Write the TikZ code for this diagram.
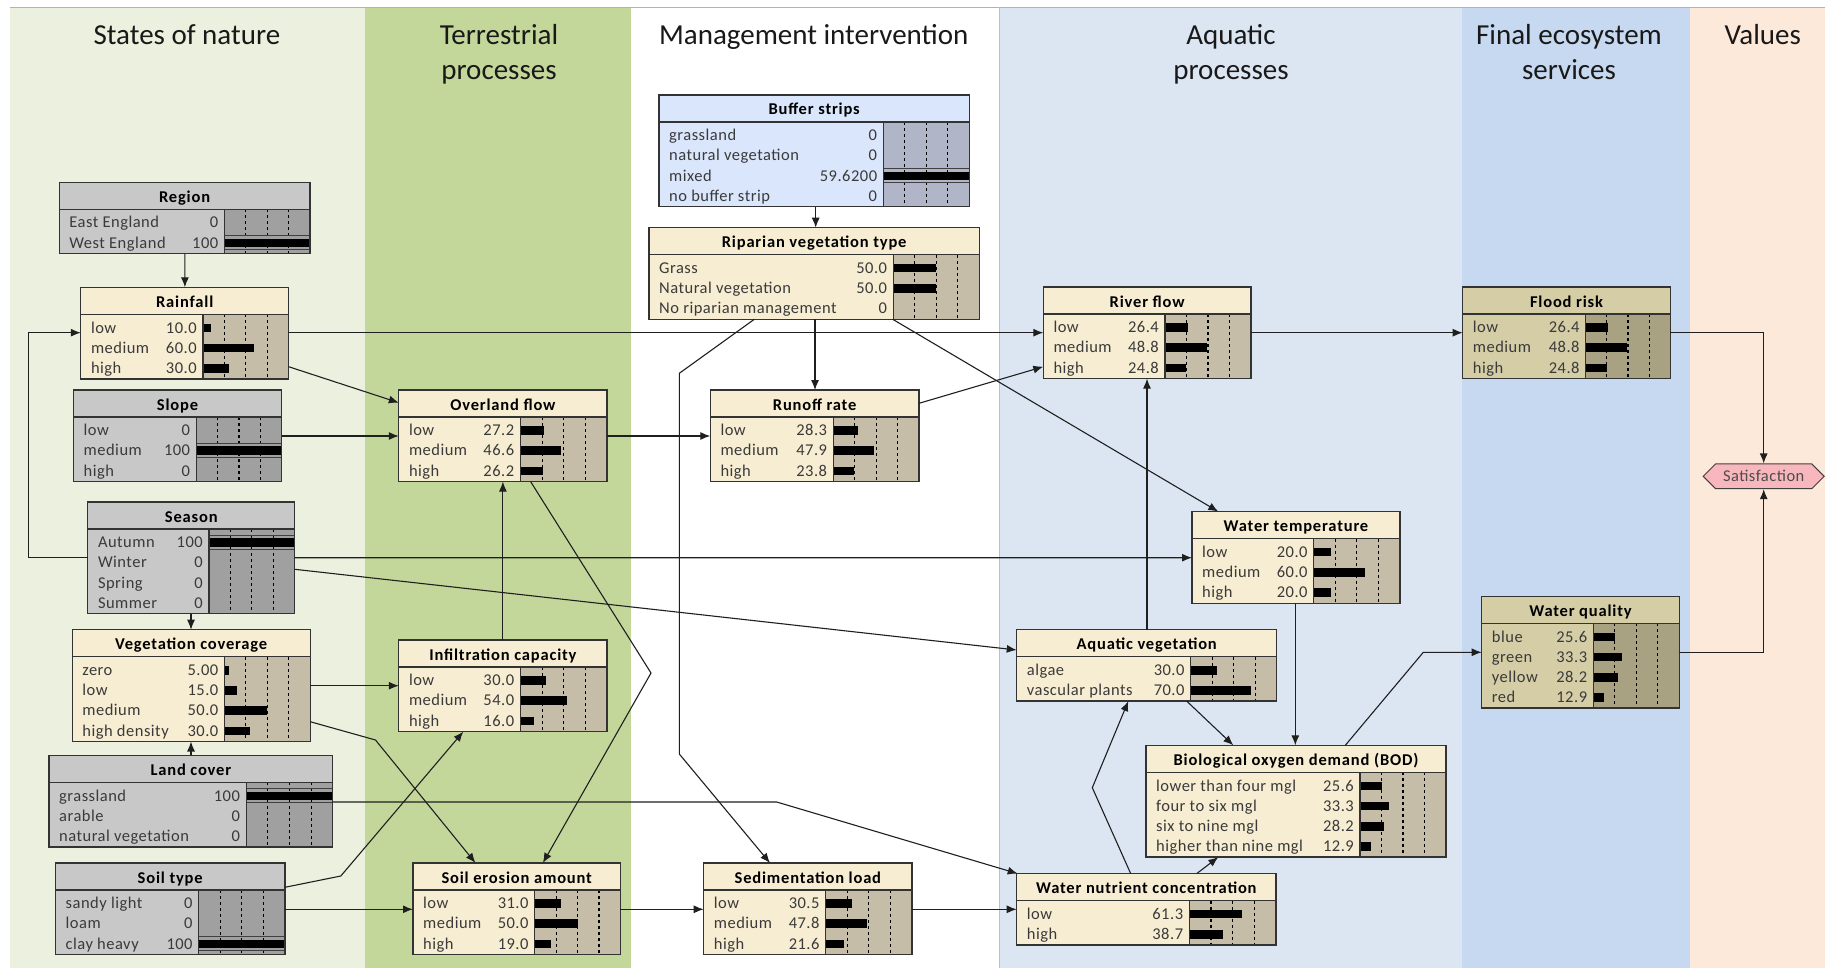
\documentclass[tikz,border=0pt]{standalone}
\usepackage{fontspec}
\setmainfont{Carlito}
\newfontfamily\rowfamily[LetterSpace=3.0]{Carlito}
\newfontfamily\ttlfamily[LetterSpace=5.0]{Carlito}
\usetikzlibrary{arrows.meta,calc,shapes.symbols}

% column backgrounds
\definecolor{colNature}{HTML}{EBF1DE}
\definecolor{colTerr}{HTML}{C4D79B}
\definecolor{colAqua}{HTML}{DCE6F2}
\definecolor{colFinal}{HTML}{C6D9F1}
\definecolor{colValue}{HTML}{FDE9D9}
% node palettes: T = title and label area, B = bar area
\definecolor{grayT}{HTML}{C8C8C8}
\definecolor{grayB}{HTML}{A0A0A0}
\definecolor{creamT}{HTML}{F7EDD2}
\definecolor{creamB}{HTML}{C6BDA8}
\definecolor{khakiT}{HTML}{D4CDA6}
\definecolor{khakiB}{HTML}{A8A282}
\definecolor{blueT}{HTML}{DAE6FC}
\definecolor{blueB}{HTML}{B0B5C7}
\definecolor{satpink}{HTML}{F8B7BC}
\definecolor{rowgray}{HTML}{3A3A3A}

\tikzset{
  conn/.style={draw=black!88, line width=1.1pt, -{Latex[length=10pt,width=8pt]}},
  dashln/.style={black, line width=1.1pt, dash pattern=on 3pt off 3pt},
  rowtxt/.style={inner sep=0pt, font=\rowfamily\fontsize{16.5}{18}\selectfont, text=rowgray},
  ttltxt/.style={inner sep=0pt, anchor=base, font=\ttlfamily\bfseries\fontsize{16.5}{18}\selectfont, text=black},
  hdr/.style={anchor=base, inner sep=0pt, font=\fontsize{29}{35}\selectfont, text=black!90},
}

% #1 name, #2 left, #3 top, #4 right, #5 divider, #6 number of rows,
% #7 palette, #8 title, #9 rows as label/value/percent/evidence
\newcommand{\bnbox}[9]{%
  \pgfmathsetmacro{\nnTop}{#3+27}%
  \pgfmathsetmacro{\nnBot}{#3+27+20.2*#6+4}%
  \pgfmathsetmacro{\nnW}{#4-#2}%
  \pgfmathsetmacro{\nnH}{\nnBot-#3}%
  \pgfmathsetmacro{\nnBar}{#4-#5}%
  \fill[#7T] (#2,#3) rectangle (#4,\nnTop);
  \fill[#7T] (#2,\nnTop) rectangle (#5,\nnBot);
  \fill[#7B] (#5,\nnTop) rectangle (#4,\nnBot);
  \foreach \f in {0.25,0.5,0.75}{\draw[dashln] ({#5+\f*\nnBar},\nnTop) -- ({#5+\f*\nnBar},\nnBot);}
  \foreach \lab/\val/\pct/\ev [count=\k from 0] in {#9}{%
    \pgfmathsetmacro{\ry}{\nnTop+18.7+20.2*\k}%
    \ifnum\ev=1
      \draw[line width=1pt, black!75] (#5,{\ry-12.2}) -- (#4,{\ry-12.2}) (#5,{\ry+1.8}) -- (#4,{\ry+1.8});
    \fi
    \fill (#5,{\ry-9.5}) rectangle ({#5+\pct/100*\nnBar},{\ry-0.9});
    \node[rowtxt, anchor=base west] at ({#2+10},\ry) {\lab};
    \node[rowtxt, anchor=base east] at ({#5-6},\ry) {\val};
  }
  \draw[line width=1.2pt, black!80] (#2,\nnTop) -- (#4,\nnTop) (#5,\nnTop) -- (#5,\nnBot);
  \node[ttltxt] at ({(#2+#4)/2},{#3+20}) {#8};
  \node[draw=black!80, line width=1.3pt, minimum width=\nnW pt, minimum height=\nnH pt,
        anchor=north west, inner sep=0pt, outer sep=0pt] (#1) at (#2,#3) {};
}

\begin{document}
\begin{tikzpicture}[x=1pt,y=-1pt]
\useasboundingbox (0,0) rectangle (1825,968);
\fill[white] (0,0) rectangle (1825,968);

% ---- columns ----
\fill[colNature] (10,7.3) rectangle (364.5,968);
\fill[colTerr]   (364.5,7.3) rectangle (630.7,968);
\fill[colAqua]   (999.3,7.3) rectangle (1462,968);
\fill[colFinal]  (1462,7.3) rectangle (1690,968);
\fill[colValue]  (1690,7.3) rectangle (1825,968);
\draw[black!30, line width=0.8pt] (10,7.3) -- (1825,7.3);
\draw[black!25, line width=0.8pt] (999.3,7.3) -- (999.3,968);

% ---- column headings ----
\node[hdr] (hNature) at (186.9,45) {States of nature};
\node[hdr] (hTerrA) at (499,45) {Terrestrial};
\node[hdr] (hTerrB) at (499,80) {processes};
\node[hdr] (hMgmt) at (813.7,45) {Management intervention};
\node[hdr] (hAquaA) at (1231,45) {Aquatic};
\node[hdr] (hAquaB) at (1231,80) {processes};
\node[hdr] (hFinalA) at (1569,45) {Final ecosystem};
\node[hdr] (hFinalB) at (1569,80) {services};
\node[hdr] (hValue) at (1762.7,45) {Values};

% ---- states of nature ----
\bnbox{region}{59.2}{182.3}{310}{224.5}{2}{gray}{Region}
  {East England/0/0/0, West England/100/100/1}
\bnbox{rain}{80.8}{287.3}{288.6}{202.9}{3}{cream}{Rainfall}
  {low/10.0/10/0, medium/60.0/60/0, high/30.0/30/0}
\bnbox{slope}{73.5}{390}{281.6}{196.3}{3}{gray}{Slope}
  {low/0/0/0, medium/100/100/1, high/0/0/0}
\bnbox{season}{87.8}{502}{294.7}{209}{4}{gray}{Season}
  {Autumn/100/100/1, Winter/0/0/0, Spring/0/0/0, Summer/0/0/0}
\bnbox{veg}{72.2}{629.7}{310.2}{224.5}{4}{cream}{Vegetation coverage}
  {zero/5.00/5/0, low/15.0/15/0, medium/50.0/50/0, high density/30.0/30/0}
\bnbox{land}{49}{755.3}{332.7}{246.1}{3}{gray}{Land cover}
  {grassland/100/100/1, arable/0/0/0, natural vegetation/0/0/0}
\bnbox{soil}{55.5}{863}{284.9}{198.8}{3}{gray}{Soil type}
  {sandy light/0/0/0, loam/0/0/0, clay heavy/100/100/1}

% ---- terrestrial processes ----
\bnbox{over}{398.8}{390}{607}{520.4}{3}{cream}{Overland flow}
  {low/27.2/27.2/0, medium/46.6/46.6/0, high/26.2/26.2/0}
\bnbox{infil}{398.8}{640}{607}{520.4}{3}{cream}{Infiltration capacity}
  {low/30.0/30/0, medium/54.0/54/0, high/16.0/16/0}
\bnbox{eros}{413}{863}{620.4}{534.7}{3}{cream}{Soil erosion amount}
  {low/31.0/31/0, medium/50.0/50/0, high/19.0/19/0}

% ---- management intervention ----
\bnbox{buffer}{659}{95}{969.3}{883.3}{4}{blue}{Buffer strips}
  {grassland/0/0/0, natural vegetation/0/0/0, mixed/59.6200/100/1, no buffer strip/0/0/0}
\bnbox{ripar}{649}{227.7}{979.3}{893.3}{3}{cream}{Riparian vegetation type}
  {Grass/50.0/50/0, Natural vegetation/50.0/50/0, No riparian management/0/0/0}
\bnbox{runoff}{710.3}{390}{919}{833.3}{3}{cream}{Runoff rate}
  {low/28.3/28.3/0, medium/47.9/47.9/0, high/23.8/23.8/0}
\bnbox{sedim}{703.7}{863}{912}{825.7}{3}{cream}{Sedimentation load}
  {low/30.5/30.5/0, medium/47.8/47.8/0, high/21.6/21.6/0}

% ---- aquatic processes ----
\bnbox{river}{1043.3}{287}{1251}{1165}{3}{cream}{River flow}
  {low/26.4/26.4/0, medium/48.8/48.8/0, high/24.8/24.8/0}
\bnbox{wtemp}{1192}{511.6}{1400}{1313.7}{3}{cream}{Water temperature}
  {low/20.0/20/0, medium/60.0/60/0, high/20.0/20/0}
\bnbox{aqveg}{1016.7}{629.7}{1276.7}{1190.7}{2}{cream}{Aquatic vegetation}
  {algae/30.0/30/0, vascular plants/70.0/70/0}
\bnbox{bod}{1146}{745.3}{1446}{1360}{4}{cream}{Biological oxygen demand (BOD)}
  {lower than four mgl/25.6/25.6/0, four to six mgl/33.3/33.3/0, six to nine mgl/28.2/28.2/0, higher than nine mgl/12.9/12.9/0}
\bnbox{wnc}{1016.7}{873.6}{1276}{1189.3}{2}{cream}{Water nutrient concentration}
  {low/61.3/61.3/0, high/38.7/38.7/0}

% ---- final ecosystem services ----
\bnbox{flood}{1462.7}{287}{1670.3}{1585.7}{3}{khaki}{Flood risk}
  {low/26.4/26.4/0, medium/48.8/48.8/0, high/24.8/24.8/0}
\bnbox{wq}{1481.7}{596.3}{1679.3}{1593.3}{4}{khaki}{Water quality}
  {blue/25.6/25.6/0, green/33.3/33.3/0, yellow/28.2/28.2/0, red/12.9/12.9/0}

% ---- values ----
\node[signal, signal to=west and east, draw=black!75, line width=1pt, fill=satpink,
      minimum width=121pt, minimum height=24.7pt, inner sep=0pt,
      font=\rowfamily\fontsize{16.5}{18}\selectfont, text=black!70] (sat) at (1763.7,476.3) {Satisfaction};

% ---- connectors ----
\draw[conn] ($(region.south west)+(125.7,0)$) -- ($(rain.north west)+(104.1,0)$);
\draw[conn] ($(season.north west)+(0,55.7)$) -| ($(rain.north west)+(-52.2,45.4)$) -- ($(rain.north west)+(0,45.4)$);
\draw[conn] ($(rain.north east)+(0,45.4)$) -- ($(river.north west)+(0,45.7)$);
\draw[conn] ($(rain.north east)+(0,79.4)$) -- ($(over.north west)+(0,12.7)$);
\draw[conn] ($(slope.north east)+(0,46)$) -- ($(over.north west)+(0,46)$);
\draw[conn] ($(infil.north west)+(104.1,0)$) -- ($(over.south west)+(104.1,0)$);
\draw[conn] ($(over.south west)+(131.8,0)$) -- (651,673) -- ($(eros.north west)+(129.9,0)$);
\draw[conn] ($(over.north east)+(0,46)$) -- ($(runoff.north west)+(0,46)$);
\draw[conn] ($(ripar.south west)+(166,0)$) -- ($(runoff.north west)+(104.7,0)$);
\draw[conn] ($(ripar.south west)+(105.3,0)$) -- (679.3,373.3) -- (679.3,754) -- ($(sedim.north west)+(66.3,0)$);
\draw[conn] ($(ripar.south west)+(243.7,0)$) -- ($(wtemp.north west)+(26.3,0)$);
\draw[conn] ($(buffer.south west)+(156.7,0)$) -- ($(ripar.north west)+(166.7,0)$);
\draw[conn] ($(runoff.north east)+(0,13.3)$) -- ($(river.north west)+(0,79.7)$);
\draw[conn] ($(season.north east)+(0,55.7)$) -- ($(wtemp.north west)+(0,46.1)$);
\draw[conn] ($(season.north east)+(0,67.3)$) -- ($(aqveg.north west)+(0,20.3)$);
\draw[conn] ($(season.south west)+(103.2,0)$) -- ($(veg.north west)+(118.8,0)$);
\draw[conn] ($(veg.north east)+(0,56)$) -- ($(infil.north west)+(0,45.7)$);
\draw[conn] ($(veg.north east)+(0,92)$) -- (375.5,740) -- ($(eros.north west)+(62.5,0)$);
\draw[conn] ($(land.north west)+(142,0)$) -- ($(veg.south west)+(118.8,0)$);
\draw[conn] ($(land.north east)+(0,46.7)$) -- (776.7,802) -- ($(wnc.north west)+(1,0)$);
\draw[conn] ($(soil.north east)+(0,24.3)$) -- (340.8,876) -- ($(infil.south west)+(64.5,0)$);
\draw[conn] ($(soil.north east)+(0,46.3)$) -- ($(eros.north west)+(0,46.3)$);
\draw[conn] ($(eros.north east)+(0,46.3)$) -- ($(sedim.north west)+(0,46.3)$);
\draw[conn] ($(sedim.north east)+(0,46.3)$) -- ($(wnc.north west)+(0,35.7)$);
\draw[conn] ($(wnc.north west)+(114,0)$) -- (1092.3,787.7) -- ($(aqveg.south west)+(111.6,0)$);
\draw[conn] ($(wnc.north west)+(180,0)$) -- ($(bod.south west)+(72.3,0)$);
\draw[conn] ($(aqveg.north west)+(130.3,0)$) -- ($(river.south west)+(103.7,0)$);
\draw[conn] ($(aqveg.south west)+(170,0)$) -- ($(bod.north west)+(87.3,0)$);
\draw[conn] ($(wtemp.south west)+(103.3,0)$) -- ($(bod.north west)+(149.3,0)$);
\draw[conn] ($(bod.north west)+(199.3,0)$) -- (1423.3,652.3) -- ($(wq.north west)+(0,56)$);
\draw[conn] ($(river.north east)+(0,45.7)$) -- ($(flood.north west)+(0,45.7)$);
\draw[conn] ($(flood.north east)+(0,45.7)$) -| (sat.north);
\draw[conn] ($(wq.north east)+(0,56)$) -| (sat.south);
\end{tikzpicture}
\end{document}
